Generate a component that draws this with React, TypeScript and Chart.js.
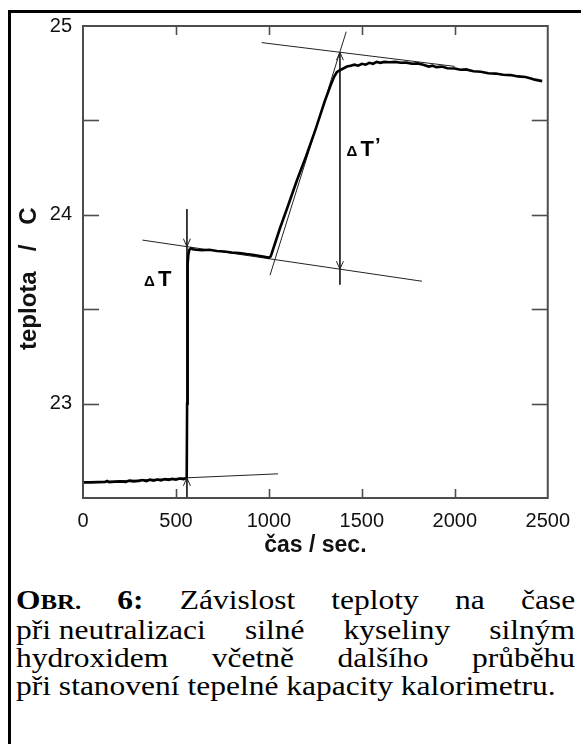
import { useEffect, useRef } from "react";
import { Chart, registerables } from "chart.js";
Chart.register(...registerables);

// main measured curve: time (s) and temperature (°C)
const timeS = [
  0, 40, 80, 120, 130, 140, 170, 200, 230, 250, 270, 300, 320, 340, 360, 380, 400, 420, 440, 460, 480, 500, 520, 540, 555,
  558, 560, 562, 564, 567, 572, 580, 590,
  610, 640, 680, 720, 760, 800, 840, 880, 920, 960, 990, 1000,
  1010, 1030, 1060, 1100, 1150, 1200, 1250, 1300, 1330, 1350, 1365, 1380, 1400, 1420,
  1440, 1460, 1480, 1500, 1520, 1540, 1560, 1580, 1600, 1620, 1650, 1680, 1710, 1740, 1770, 1800, 1830, 1860, 1880, 1900,
  1930, 1960, 2000, 2030, 2060, 2100, 2140, 2180, 2220, 2260, 2300, 2340, 2380, 2410, 2430, 2450, 2470,
];
const tempC = [
  22.583, 22.583, 22.584, 22.585, 22.59, 22.584, 22.586, 22.588, 22.585, 22.592, 22.588, 22.59, 22.595, 22.589, 22.597, 22.592, 22.598, 22.593, 22.6, 22.596, 22.601, 22.597, 22.603, 22.6, 22.604,
  22.62, 23.0, 23.5, 23.74, 23.79, 23.815, 23.822, 23.818,
  23.815, 23.812, 23.815, 23.808, 23.806, 23.8, 23.798, 23.792, 23.787, 23.78, 23.775, 23.772,
  23.78, 23.84, 23.93, 24.04, 24.18, 24.31, 24.45, 24.6, 24.68, 24.73, 24.755, 24.765, 24.775, 24.785,
  24.79, 24.795, 24.79, 24.8, 24.795, 24.805, 24.8, 24.81, 24.805, 24.81, 24.808, 24.81, 24.805, 24.806, 24.8, 24.802, 24.795, 24.785, 24.79, 24.782,
  24.785, 24.776, 24.775, 24.768, 24.77, 24.76, 24.758, 24.75, 24.748, 24.742, 24.74, 24.733, 24.73, 24.722, 24.716, 24.712, 24.708,
];

// construction lines (extrapolations)
const baseLineT = [0, 1049];
const baseLineY = [22.583, 22.628];
const midLineT = [320, 1824];
const midLineY = [23.866, 23.648];
const topLineT = [961, 2000];
const topLineY = [24.912, 24.786];
const riseLineT = [1006, 1416];
const riseLineY = [23.68, 24.97];
const dT1T = [559, 559];
const dT1Y = [24.03, 22.5];
const dT2T = [1382, 1382];
const dT2Y = [24.86, 23.63];

// arrowheads: tip positions and direction (1 = pointing down, -1 = up)
const arrowT = [559, 559, 1382, 1382];
const arrowY = [23.831, 22.607, 24.861, 23.712];
const arrowDir = [1, -1, -1, 1];

// annotation labels
const labelT = [328, 1418];
const labelY = [23.625, 24.31];
const labelSuffix = ["", "’"];

// axis ticks
const xTicks = [0, 500, 1000, 1500, 2000, 2500];
const yTicks = [22.5, 23, 23.5, 24, 24.5, 25];

const SANS = '"Liberation Sans", Arial, sans-serif';

function pts(t: number[], v: number[]) {
  return t.map((x, i) => ({ x, y: v[i] }));
}

const overlay = {
  id: "overlay",
  afterDatasetsDraw(chart: any) {
    const { ctx, chartArea: a, scales } = chart;
    const x = scales.x;
    const y = scales.y;
    ctx.save();
    const line = (x1: number, y1: number, x2: number, y2: number) => {
      ctx.beginPath();
      ctx.moveTo(x1, y1);
      ctx.lineTo(x2, y2);
      ctx.stroke();
    };
    // plot frame
    ctx.strokeStyle = "#4d4d4d";
    ctx.lineWidth = 2;
    ctx.strokeRect(a.left, a.top, a.right - a.left, a.bottom - a.top);
    // inward ticks
    ctx.lineWidth = 1.6;
    for (const v of xTicks) {
      if (v <= x.min || v >= x.max) continue;
      const px = Math.round(x.getPixelForValue(v)) + 0.5;
      line(px, a.bottom, px, a.bottom - 9);
      line(px, a.top, px, a.top + 9);
    }
    for (const v of yTicks) {
      if (v <= y.min || v >= y.max) continue;
      const py = Math.round(y.getPixelForValue(v)) + 0.5;
      line(a.left, py, a.left + 16, py);
      line(a.right, py, a.right - 16, py);
    }
    // arrowheads
    ctx.strokeStyle = "#222";
    ctx.lineWidth = 1;
    for (let i = 0; i < arrowT.length; i++) {
      const px = x.getPixelForValue(arrowT[i]);
      const py = y.getPixelForValue(arrowY[i]);
      const d = arrowDir[i];
      ctx.beginPath();
      ctx.moveTo(px - 3.5, py - d * 8);
      ctx.lineTo(px, py);
      ctx.lineTo(px + 3.5, py - d * 8);
      ctx.stroke();
    }
    // labels ΔT, ΔT'
    ctx.fillStyle = "#000";
    ctx.textBaseline = "alphabetic";
    ctx.textAlign = "left";
    for (let i = 0; i < labelT.length; i++) {
      const px = x.getPixelForValue(labelT[i]);
      const py = y.getPixelForValue(labelY[i]);
      ctx.font = `bold 15px ${SANS}`;
      ctx.fillText("Δ", px, py);
      ctx.font = `bold 22px ${SANS}`;
      ctx.fillText("T", px + 14, py);
      if (labelSuffix[i]) {
        const w = ctx.measureText("T").width;
        ctx.font = `bold 20px ${SANS}`;
        ctx.fillText(labelSuffix[i], px + 14 + w + 1, py - 4);
      }
    }
    ctx.restore();
  },
};

export default function App() {
  const ref = useRef<HTMLCanvasElement | null>(null);
  useEffect(() => {
    if (!ref.current) return;
    const thin = (t: number[], v: number[]) => ({
      data: pts(t, v),
      borderColor: "#222",
      borderWidth: 1,
      pointRadius: 0,
      tension: 0,
    });
    const chart = new Chart(ref.current, {
      type: "line",
      data: {
        datasets: [
          {
            data: pts(timeS, tempC),
            borderColor: "#000",
            borderWidth: 2.6,
            pointRadius: 0,
            tension: 0,
          },
          thin(baseLineT, baseLineY),
          thin(midLineT, midLineY),
          thin(topLineT, topLineY),
          thin(riseLineT, riseLineY),
          thin(dT1T, dT1Y),
          thin(dT2T, dT2Y),
        ],
      },
      options: {
        animation: false,
        responsive: false,
        maintainAspectRatio: false,
        layout: { padding: { left: 0, right: 26, top: 26, bottom: 0 } },
        plugins: { legend: { display: false }, tooltip: { enabled: false } },
        scales: {
          x: {
            type: "linear",
            min: 0,
            max: 2500,
            grid: { display: false, drawTicks: false, tickLength: 0 },
            border: { display: false },
            ticks: {
              stepSize: 500,
              maxRotation: 0,
              autoSkip: false,
              padding: 11,
              color: "#111",
              font: { family: SANS, size: 20 },
              callback: (v: any) => String(v),
            },
            title: {
              display: true,
              text: "čas / sec.",
              color: "#111",
              font: { family: SANS, size: 23, weight: "bold" },
              padding: { top: 0, bottom: 11 },
            },
            afterFit: (s: any) => {
              s.height = 72;
            },
          },
          y: {
            type: "linear",
            min: 22.5,
            max: 25,
            grid: { display: false, drawTicks: false, tickLength: 0 },
            border: { display: false },
            ticks: {
              stepSize: 0.5,
              autoSkip: false,
              padding: 11,
              color: "#111",
              font: { family: SANS, size: 20 },
              callback: (v: any) => (Number.isInteger(v) ? String(v) : ""),
            },
            title: {
              display: true,
              text: "teplota   /   C     ",
              color: "#111",
              font: { family: SANS, size: 24, weight: "bold" },
              padding: { top: 15, bottom: 0 },
            },
            afterFit: (s: any) => {
              s.width = 83;
            },
          },
        },
      } as any,
      plugins: [overlay],
    });
    return () => chart.destroy();
  }, []);

  const just: any = { textAlign: "justify", textAlignLast: "justify", whiteSpace: "normal" };
  return (
    <div style={{ position: "fixed", left: 0, top: 0, width: 581, height: 744, overflow: "hidden", background: "#fff" }}>
      <div
        style={{
          position: "absolute",
          left: 8,
          top: 10,
          width: 700,
          height: 900,
          borderLeft: "3px solid #000",
          borderTop: "3px solid #000",
          boxSizing: "border-box",
        }}
      />
      <canvas ref={ref} width={581} height={570} style={{ position: "absolute", left: 0, top: 0, display: "block" }} />
      <div
        style={{
          position: "absolute",
          left: 16,
          top: 585.5,
          width: 497,
          transform: "scaleX(1.125)",
          transformOrigin: "0 0",
          fontFamily: '"Liberation Serif", "Times New Roman", serif',
          fontSize: 28,
          lineHeight: "28px",
          color: "#000",
        }}
      >
        <div style={just}>
          <b>
            O<span style={{ fontSize: 22 }}>BR.</span>
          </b>{" "}
          <b>6:</b> Závislost teploty na čase
        </div>
        <div style={just}>
          <span style={{ display: "inline-block" }}>při neutralizaci</span> silné kyseliny silným
        </div>
        <div style={just}>hydroxidem včetně dalšího průběhu</div>
        <div>při stanovení tepelné kapacity kalorimetru.</div>
      </div>
    </div>
  );
}
